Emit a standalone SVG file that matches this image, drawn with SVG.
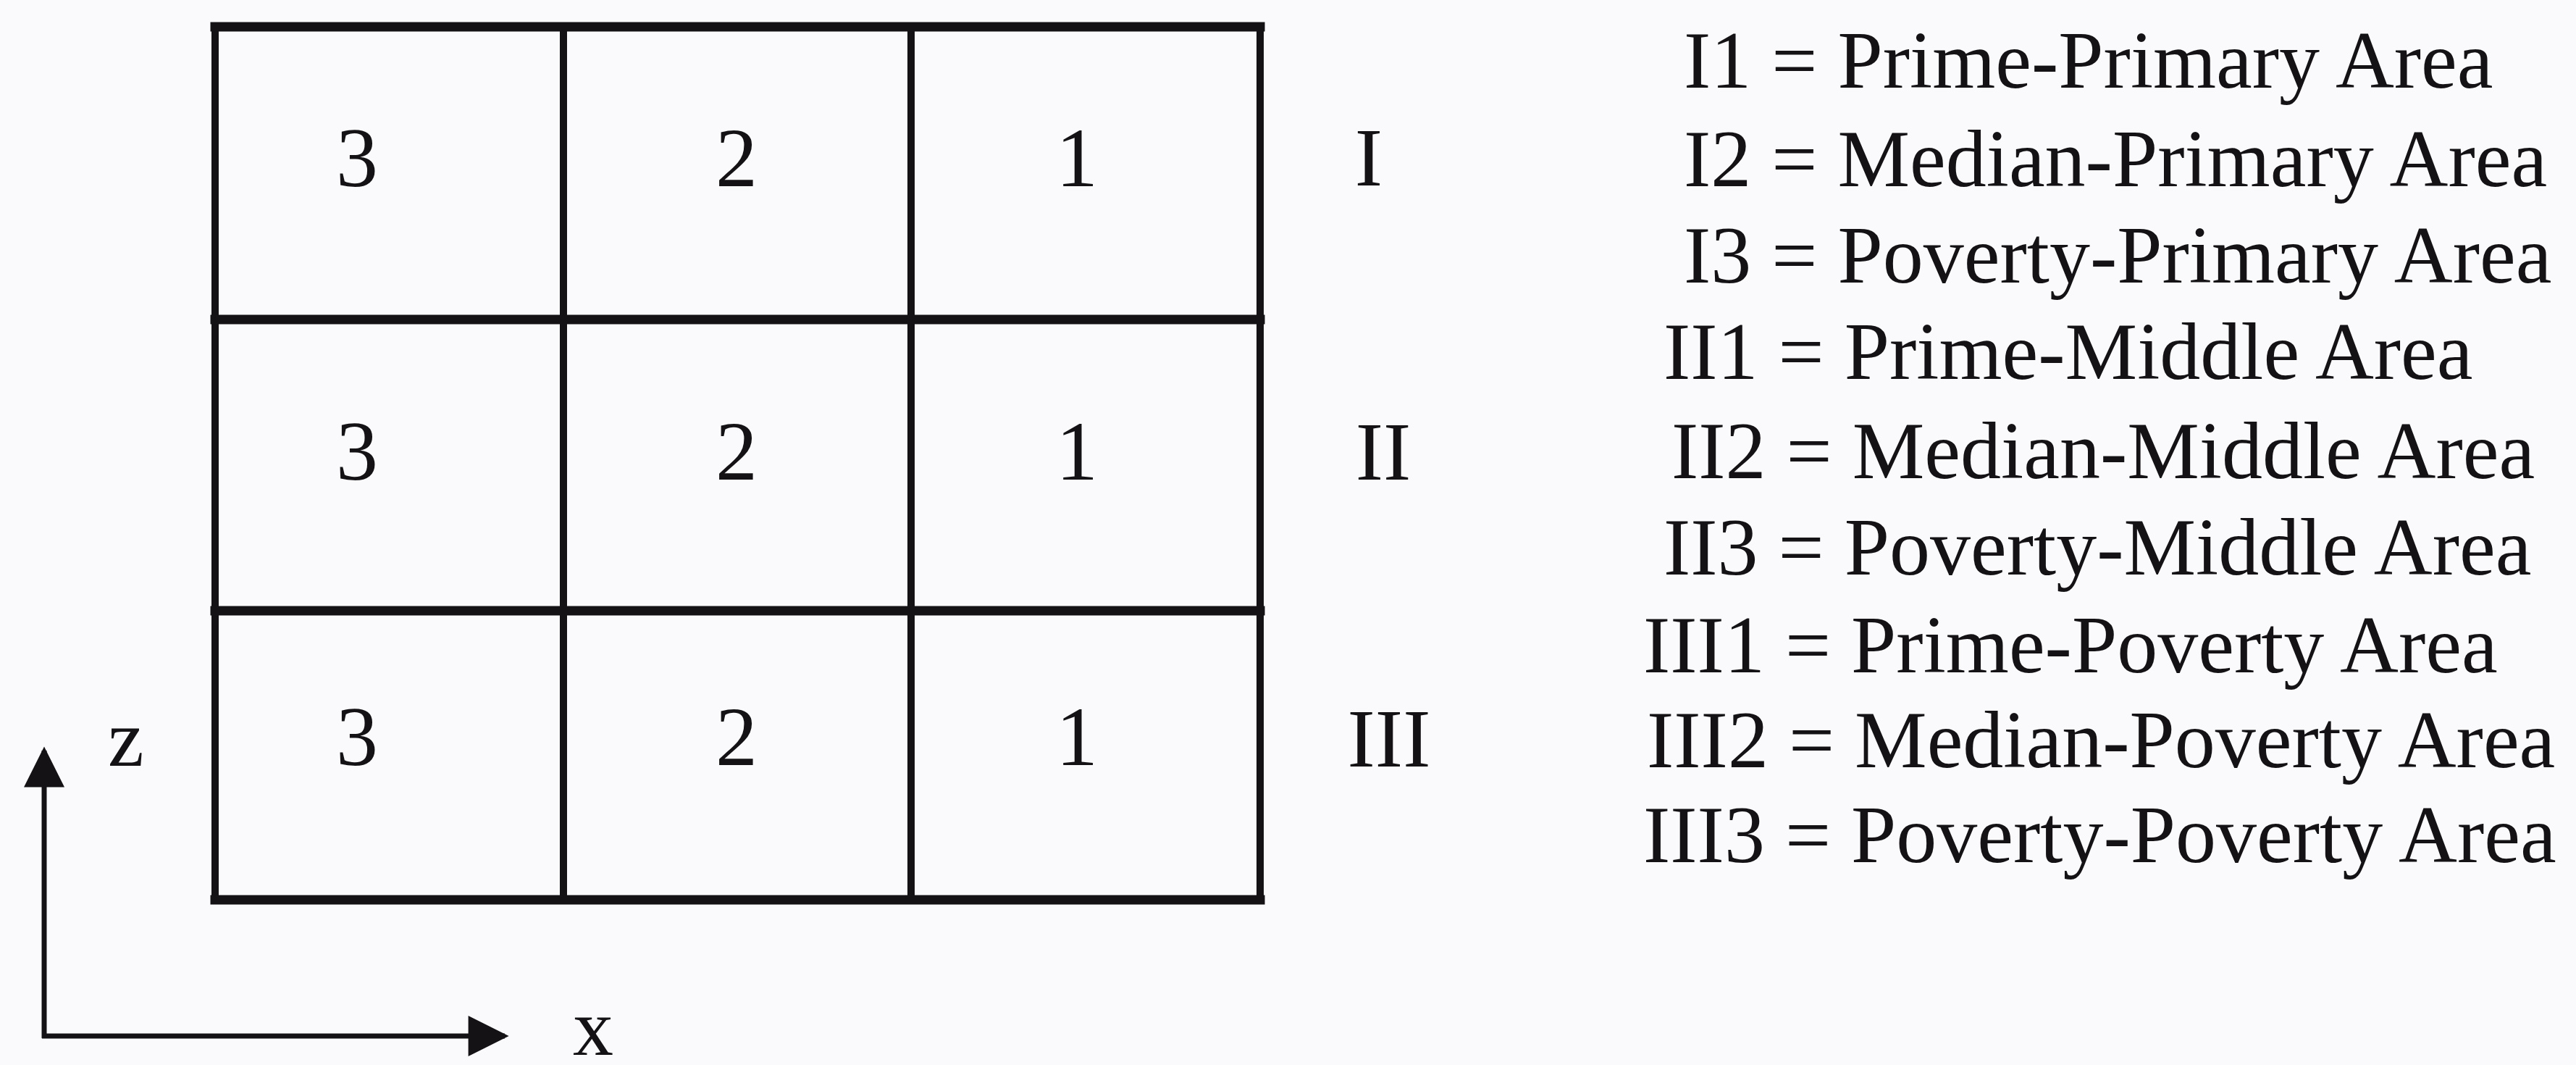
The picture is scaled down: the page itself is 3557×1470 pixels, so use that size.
<svg xmlns="http://www.w3.org/2000/svg" width="3557" height="1470" viewBox="0 0 3557 1470">
<style>
.t{font-family:"Liberation Serif","Times New Roman",serif;fill:#141214}
.d{font-size:116px;text-anchor:middle}
.r{font-size:115px;text-anchor:middle}
.l{font-size:112px}
.gh{stroke:#141214;stroke-width:13;fill:none;stroke-linecap:square}
.gv{stroke:#141214;stroke-width:10;fill:none;stroke-linecap:square}
.ax{stroke:#141214;stroke-width:7;fill:none}
</style>
<defs>
<marker id="ah" viewBox="0 0 10 10" refX="9" refY="5" markerWidth="8.5" markerHeight="8" markerUnits="strokeWidth" orient="auto">
<path d="M0,0 L10,5 L0,10 Z" fill="#141214"/>
</marker>
</defs>
<rect width="3557" height="1470" fill="#fafafc"/>
<g id="grid">
<line class="gv" x1="297" y1="37" x2="297" y2="1242"/>
<line class="gv" x1="778" y1="37" x2="778" y2="1242"/>
<line class="gv" x1="1258" y1="37" x2="1258" y2="1242"/>
<line class="gv" x1="1740" y1="37" x2="1740" y2="1242"/>
<line class="gh" x1="297" y1="37" x2="1740" y2="37"/>
<line class="gh" x1="297" y1="441" x2="1740" y2="441"/>
<line class="gh" x1="297" y1="843" x2="1740" y2="843"/>
<line class="gh" x1="297" y1="1242" x2="1740" y2="1242"/>
</g>
<g id="cell-I3"><text class="t d" x="493" y="257">3</text></g>
<g id="cell-I2"><text class="t d" x="1017" y="257">2</text></g>
<g id="cell-I1"><text class="t d" x="1487" y="257">1</text></g>
<g id="cell-II3"><text class="t d" x="493" y="662">3</text></g>
<g id="cell-II2"><text class="t d" x="1017" y="662">2</text></g>
<g id="cell-II1"><text class="t d" x="1487" y="662">1</text></g>
<g id="cell-III3"><text class="t d" x="493" y="1056">3</text></g>
<g id="cell-III2"><text class="t d" x="1017" y="1056">2</text></g>
<g id="cell-III1"><text class="t d" x="1487" y="1056">1</text></g>
<g id="row-labels">
<text class="t r" x="1890" y="256">I</text>
<text class="t r" x="1910" y="662">II</text>
<text class="t r" x="1918" y="1058">III</text>
</g>
<g id="legend">
<text class="t l" x="2325" y="121">I1 = Prime-Primary Area</text>
<text class="t l" x="2325" y="257">I2 = Median-Primary Area</text>
<text class="t l" x="2325" y="390">I3 = Poverty-Primary Area</text>
<text class="t l" x="2297" y="523">II1 = Prime-Middle Area</text>
<text class="t l" x="2308" y="660">II2 = Median-Middle Area</text>
<text class="t l" x="2297" y="793">II3 = Poverty-Middle Area</text>
<text class="t l" x="2269" y="928">III1 = Prime-Poverty Area</text>
<text class="t l" x="2274" y="1059">III2 = Median-Poverty Area</text>
<text class="t l" x="2269" y="1190">III3 = Poverty-Poverty Area</text>
</g>
<g id="connectors">
<line class="ax" x1="61" y1="1433" x2="61" y2="1036" marker-end="url(#ah)"/>
<line class="ax" x1="58" y1="1430" x2="697" y2="1430" marker-end="url(#ah)"/>
</g>
<g id="axis-labels">
<text class="t l" x="149" y="1057">z</text>
<text class="t l" x="791" y="1456">x</text>
</g>
</svg>
